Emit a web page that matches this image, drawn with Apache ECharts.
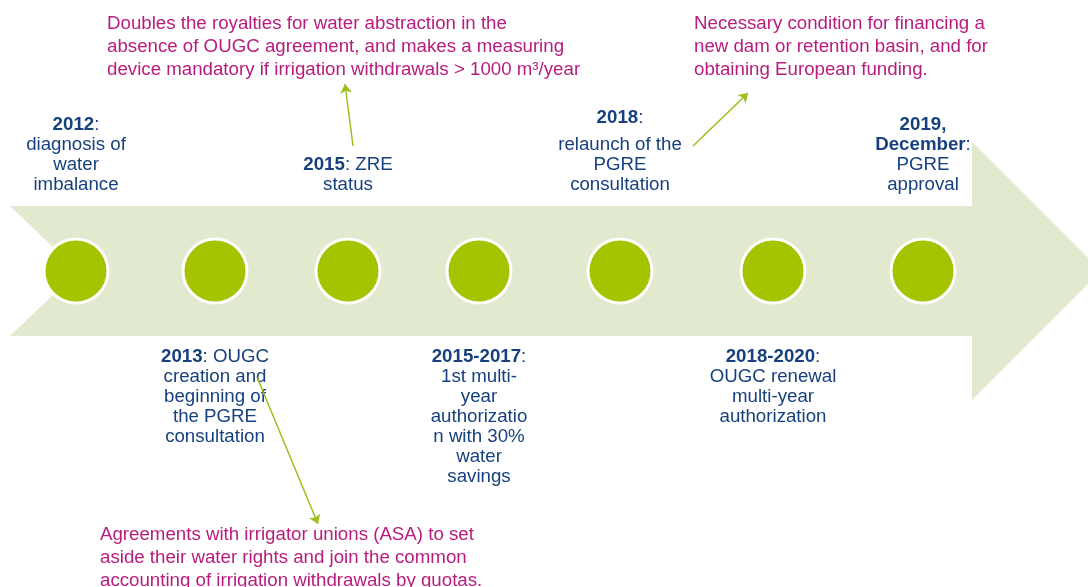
<!DOCTYPE html>
<html><head><meta charset="utf-8">
<script src="https://cdn.jsdelivr.net/npm/echarts@6/dist/echarts.min.js"></script>
<style>html,body{margin:0;padding:0;background:#fff}#c{width:1088px;height:587px}</style>
</head><body><div id="c"></div>
<script>
// Timeline events (in order)
const eventLabels = [
  '{b|2012}:\ndiagnosis of\nwater\nimbalance',
  '{b|2013}: OUGC\ncreation and\nbeginning of\nthe PGRE\nconsultation',
  '{b|2015}: ZRE\nstatus',
  '{b|2015-2017}:\n1st multi-\nyear\nauthorizatio\nn with 30%\nwater\nsavings',
  '{h|2018}{hc|:}\nrelaunch of the\nPGRE\nconsultation',
  '{b|2018-2020}:\nOUGC renewal\nmulti-year\nauthorization',
  '{b|2019,}\n{b|December}:\nPGRE\napproval'
];
const eventSide = ['top', 'bottom', 'top', 'bottom', 'top', 'bottom', 'top'];
// position of each event along the timeline arrow
const eventPositions = [76, 215, 348, 479, 620, 773, 923];

// Annotations attached to events
const noteTexts = [
  'Doubles the royalties for water abstraction in the\nabsence of OUGC agreement, and makes a measuring\ndevice mandatory if irrigation withdrawals > 1000 m³/year',
  'Necessary condition for financing a\nnew dam or retention basin, and for\nobtaining European funding.',
  'Agreements with irrigator unions (ASA) to set\naside their water rights and join the common\naccounting of irrigation withdrawals by quotas.'
];
const noteEvent = [2, 4, 1];

// ---- layout (page space) ----
const W = 1088, H = 587;
const axisY = 271;
const band = {x0: 10, x1: 972, top: 206, bottom: 336, headTop: 142, headBottom: 400, tip: 1101, notch: 78};
const notePlace = [
  {x: 107, y: 12.5, tail: [353, 146], head: [345, 84]},
  {x: 694, y: 12.5, tail: [693, 146], head: [748, 93]},
  {x: 100, y: 523, tail: [257, 377], head: [318, 524]}
];

const BLUE = '#17407e', MAG = '#b81c7e', GREEN = '#a6c300', BAND = '#e1e9cf', LINE = '#9cbf1c';
const FONT = '"Liberation Sans", Arial, sans-serif';
const FS = 18.7;

const chart = echarts.init(document.getElementById('c'), null, {renderer: 'canvas'});
chart.setOption({
  animation: false,
  grid: {left: 0, right: 0, top: 0, bottom: 0},
  xAxis: {type: 'value', min: 0, max: W, show: false},
  yAxis: {type: 'value', min: 0, max: H, inverse: true, show: false},
  series: [
    {
      type: 'custom', z: 1, silent: true,
      data: [[0]],
      renderItem: function (params, api) {
        const pts = [
          [band.x0, band.top], [band.x1, band.top], [band.x1, band.headTop], [band.tip, axisY],
          [band.x1, band.headBottom], [band.x1, band.bottom], [band.x0, band.bottom], [band.notch, axisY]
        ].map(p => api.coord(p));
        return {type: 'polygon', shape: {points: pts}, style: {fill: BAND}};
      }
    },
    {
      type: 'scatter', z: 3, silent: true,
      symbol: 'circle', symbolSize: 64,
      itemStyle: {color: GREEN, borderColor: '#fff', borderWidth: 3, opacity: 1},
      data: eventPositions.map(x => [x, axisY])
    },
    {
      type: 'custom', z: 4, silent: true,
      data: eventPositions.map((x, i) => [x, i]),
      renderItem: function (params, api) {
        const i = api.value(1);
        const top = eventSide[i] === 'top';
        const p = api.coord([api.value(0), top ? 195 : 347]);
        return {
          type: 'text', x: p[0], y: p[1],
          style: {
            text: eventLabels[i], fill: BLUE, fontFamily: FONT, fontSize: FS, lineHeight: 20,
            align: 'center', verticalAlign: top ? 'bottom' : 'top',
            rich: {
              b: {fontWeight: 'bold', fontSize: FS, lineHeight: 20, fill: BLUE, fontFamily: FONT},
              h: {fontWeight: 'bold', fontSize: FS, lineHeight: 34, fill: BLUE, fontFamily: FONT},
              hc: {fontSize: FS, lineHeight: 34, fill: BLUE, fontFamily: FONT}
            }
          }
        };
      }
    },
    {
      type: 'custom', z: 4, silent: true,
      data: noteEvent.map((e, i) => [e, i]),
      renderItem: function (params, api) {
        const i = api.value(1);
        const pl = notePlace[i];
        const p = api.coord([pl.x, pl.y]);
        return {
          type: 'text', x: p[0], y: p[1],
          style: {
            text: noteTexts[i], fill: MAG, fontFamily: FONT, fontSize: FS, lineHeight: 23,
            align: 'left', verticalAlign: 'top'
          }
        };
      }
    },
    {
      type: 'lines', coordinateSystem: 'cartesian2d', z: 5, silent: true,
      symbol: ['none', 'arrow'], symbolSize: 9,
      lineStyle: {color: LINE, width: 1.5, opacity: 1, curveness: 0},
      data: notePlace.map(pl => ({coords: [pl.tail, pl.head]}))
    }
  ]
});
</script></body></html>
